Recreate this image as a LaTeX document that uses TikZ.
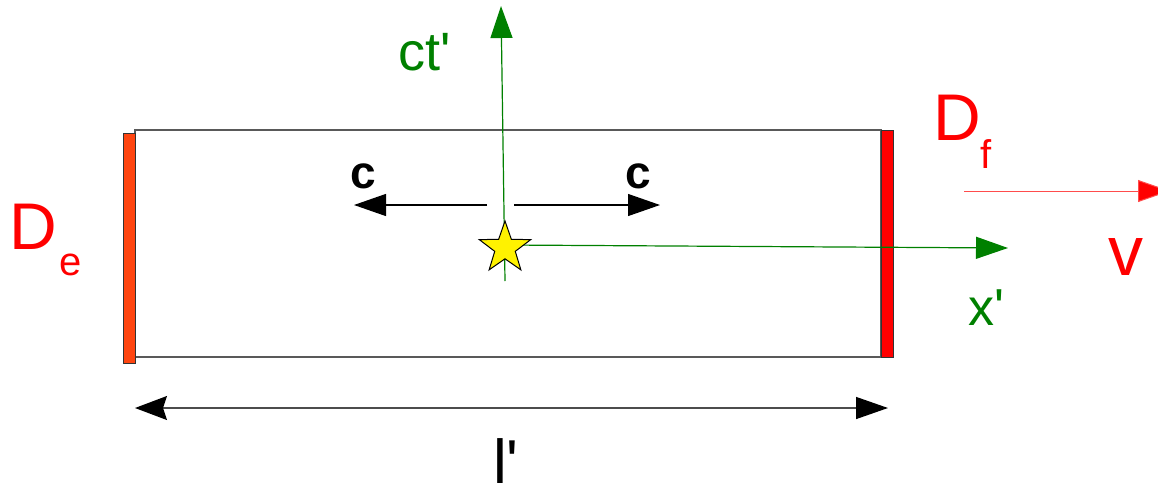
\documentclass[tikz,border=0pt]{standalone}
\usepackage{fontspec}
\setmainfont{Liberation Sans}[Ligatures=TeXOff]
\usetikzlibrary{arrows.meta,shapes.geometric,positioning}
\definecolor{axisgreen}{RGB}{0,128,0}
\definecolor{mirrorred}{RGB}{255,0,0}
\definecolor{mirrororange}{RGB}{255,69,16}

\begin{document}
\begin{tikzpicture}[x=0.5pt, y=-0.5pt,
    tip/.style={-{Triangle[length=16pt, width=11pt]}},
    lbl/.style={anchor=base, inner sep=0pt}]
  \useasboundingbox (0,0) rectangle (1158,488);

  % the room and its two mirrors
  \draw[black!65, line width=0.7pt] (135,130) rectangle (881,357);
  \filldraw[fill=mirrororange, draw=black!80, line width=0.5pt] (123,133) rectangle (135,363);
  \filldraw[fill=mirrorred, draw=black!80, line width=0.5pt] (881,130) rectangle (893,357);

  \coordinate (origin) at (505,245);
  \coordinate (tbottom) at (505,281);
  \coordinate (ttop) at (501,6);
  \coordinate (xend) at (1008,248);

  % axes
  \draw[axisgreen, line width=0.6pt, tip] (tbottom) -- (ttop);
  \draw[axisgreen, line width=0.6pt, tip] (origin) -- (xend);

  \node[star, star points=5, star point ratio=2.5, minimum size=27pt, inner sep=0pt,
        fill=yellow, draw=black, line width=0.5pt] (flash) at (505,248) {};

  % light signals
  \coordinate (lstart) at (487,205);
  \coordinate (lend) at (354,205);
  \coordinate (rstart) at (514,205);
  \coordinate (rend) at (660,205);
  \draw[line width=0.6pt, tip] (lstart) -- (lend);
  \draw[line width=0.6pt, tip] (rstart) -- (rend);

  % velocity
  \coordinate (vstart) at (964,191);
  \coordinate (vend) at (1170,191);
  \draw[mirrorred!70, line width=0.5pt, -{Triangle[length=16pt, width=11pt, fill=mirrorred]}] (vstart) -- (vend);

  % length
  \coordinate (lenleft) at (135,408);
  \coordinate (lenright) at (888,408);
  \draw[black!70, line width=0.7pt,
        {Stealth[length=16pt, width=12pt, inset=2pt, black]}-{Triangle[length=16pt, width=11pt, black]}]
        (lenleft) -- (lenright);

  % labels
  \node[lbl, text=axisgreen, font=\fontsize{27}{32}\selectfont] (tlabel) at (425,70) {ct'};
  \node[lbl, text=axisgreen, font=\fontsize{26}{31}\selectfont] (xlabel) at (986,325) {x'};
  \node[lbl, font=\fontsize{23}{27}\selectfont\bfseries] (cleft) at (363,188) {c};
  \node[lbl, font=\fontsize{23}{27}\selectfont\bfseries] (cright) at (638,188) {c};
  \node[lbl, text=mirrorred, font=\fontsize{33}{40}\selectfont] (De) at (33,249) {D};
  \node[lbl, text=mirrorred, font=\fontsize{20}{24}\selectfont] (Desub) at (71,275) {e};
  \node[lbl, text=mirrorred, font=\fontsize{33}{40}\selectfont] (Df) at (957,140) {D};
  \node[lbl, text=mirrorred, font=\fontsize{20}{24}\selectfont] (Dfsub) at (986,168) {f};
  \node[lbl, text=mirrorred, font=\fontsize{35}{42}\selectfont] (vlabel) at (1126,275) {v};
  \node[lbl, font=\fontsize{31}{37}\selectfont] (llabel) at (506,483) {l'};
\end{tikzpicture}
\end{document}
